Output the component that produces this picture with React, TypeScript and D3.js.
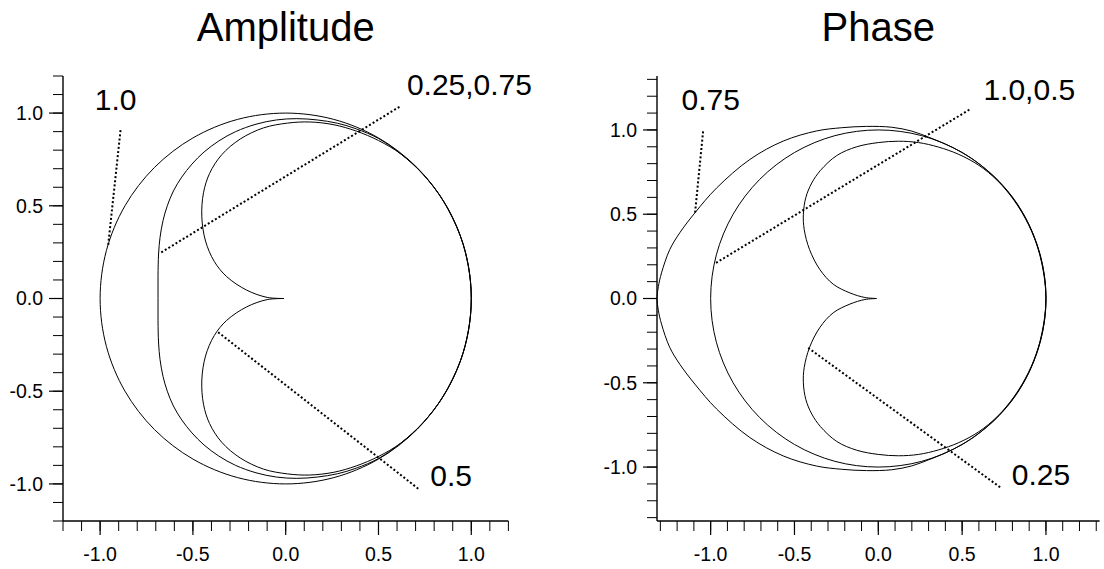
import React from "react";
import * as d3 from "d3";

type Pt = [number, number];

// ---- Data (upper halves, from left end to right end; curves are symmetric about y = 0) ----

// Amplitude panel
const ampCurve1_0: Pt[] = [
  [-1.0, 0], [-0.966, 0.259], [-0.866, 0.5], [-0.707, 0.707], [-0.5, 0.866], [-0.259, 0.966],
  [0.0, 1.0], [0.259, 0.966], [0.5, 0.866], [0.707, 0.707], [0.866, 0.5], [0.966, 0.259], [1.0, 0],
];
const ampCurve025_075: Pt[] = [
  [-0.688, 0], [-0.688, 0.12], [-0.685, 0.24], [-0.677, 0.33], [-0.661, 0.42], [-0.638, 0.5],
  [-0.605, 0.58], [-0.56, 0.655], [-0.505, 0.725], [-0.44, 0.79], [-0.36, 0.85], [-0.27, 0.9],
  [-0.16, 0.94], [-0.05, 0.963], [0.06, 0.97], [0.17, 0.963], [0.28, 0.945], [0.38, 0.915],
  [0.5, 0.863], [0.62, 0.78], [0.74, 0.67], [0.85, 0.525], [0.94, 0.34], [0.985, 0.17], [1.0, 0],
];
const ampCurve0_5: Pt[] = [
  [-0.01, 0], [-0.1, 0.006], [-0.21, 0.045], [-0.318, 0.118], [-0.385, 0.2], [-0.432, 0.31],
  [-0.452, 0.44], [-0.443, 0.57], [-0.41, 0.675], [-0.345, 0.775], [-0.245, 0.86], [-0.12, 0.92],
  [0.01, 0.946], [0.13, 0.952], [0.26, 0.937], [0.38, 0.903], [0.5, 0.852], [0.62, 0.78],
  [0.74, 0.67], [0.85, 0.525], [0.94, 0.34], [0.985, 0.17], [1.0, 0],
];

// Phase panel
const phaseCurve0_75: Pt[] = [
  [-1.32, 0], [-1.312, 0.07], [-1.293, 0.152], [-1.244, 0.29], [-1.184, 0.39], [-1.094, 0.508],
  [-0.965, 0.655], [-0.766, 0.825], [-0.567, 0.934], [-0.368, 0.994], [-0.22, 1.013], [-0.07, 1.021],
  [0.08, 1.016], [0.2, 0.993], [0.3, 0.957], [0.4, 0.916], [0.5, 0.866], [0.6, 0.8],
  [0.72, 0.695], [0.83, 0.56], [0.92, 0.39], [0.975, 0.21], [1.0, 0],
];
const phaseCurve1_0_0_5: Pt[] = [
  [-1.0, 0], [-0.966, 0.259], [-0.866, 0.5], [-0.707, 0.707], [-0.5, 0.866], [-0.259, 0.966],
  [0.0, 1.0], [0.259, 0.966], [0.5, 0.866], [0.707, 0.707], [0.866, 0.5], [0.966, 0.259], [1.0, 0],
];
const phaseCurve0_25: Pt[] = [
  [-0.01, 0], [-0.08, 0.006], [-0.169, 0.033], [-0.269, 0.085], [-0.348, 0.171], [-0.41, 0.29],
  [-0.442, 0.41], [-0.447, 0.5], [-0.432, 0.6], [-0.397, 0.685], [-0.345, 0.76], [-0.248, 0.848],
  [-0.129, 0.9], [0.0, 0.925], [0.12, 0.933], [0.24, 0.925], [0.36, 0.898], [0.48, 0.855],
  [0.6, 0.79], [0.71, 0.7], [0.81, 0.582], [0.895, 0.44], [0.955, 0.29], [0.99, 0.14], [1.0, 0],
];

// Annotation leader lines [from, to] and label anchors (data coordinates)
const ampLabels = ["1.0", "0.25,0.75", "0.5"];
const ampLeaders: [Pt, Pt][] = [
  [[-0.89, 0.908], [-0.957, 0.283]],
  [[0.613, 1.034], [-0.678, 0.244]],
  [[-0.364, -0.182], [0.716, -1.027]],
];
const ampLabelAnchors: Pt[] = [[-1.029, 1.016], [0.653, 1.097], [0.779, -1.009]];

const phaseLabels = ["0.75", "1.0,0.5", "0.25"];
const phaseLeaders: [Pt, Pt][] = [
  [[-1.045, 0.992], [-1.094, 0.498]],
  [[0.543, 1.12], [-0.975, 0.207]],
  [[-0.418, -0.293], [0.731, -1.123]],
];
const phaseLabelAnchors: Pt[] = [[-1.174, 1.116], [0.627, 1.18], [0.796, -1.108]];

// Axes
const majorTicks = [-1.0, -0.5, 0.0, 0.5, 1.0];
const majorTickLabels = ["-1.0", "-0.5", "0.0", "0.5", "1.0"];
const ampMinorTicks = [-1.2, -1.1, -1.0, -0.9, -0.8, -0.7, -0.6, -0.5, -0.4, -0.3, -0.2, -0.1, 0, 0.1, 0.2, 0.3, 0.4, 0.5, 0.6, 0.7, 0.8, 0.9, 1.0, 1.1, 1.2];
const phaseMinorTicks = [-1.3, ...ampMinorTicks, 1.3];

const FONT = "'Liberation Sans', Arial, Helvetica, sans-serif";

function closedLoop(upper: Pt[]): Pt[] {
  const lower = upper.slice(1, -1).reverse().map(([x, y]) => [x, -y] as Pt);
  return [...upper, ...lower];
}
function cuspLoop(upper: Pt[]): Pt[] {
  const lower = upper.slice(0, -1).reverse().map(([x, y]) => [x, -y] as Pt);
  return [...upper, ...lower];
}

type CurveSpec = { pts: Pt[]; cusp: boolean };

type PanelProps = {
  title: string;
  xDomain: [number, number];
  xRange: [number, number];
  yDomain: [number, number];
  yRange: [number, number];
  curves: CurveSpec[];
  leaders: [Pt, Pt][];
  labels: string[];
  anchors: Pt[];
  minorTicks: number[];
};

function Panel(p: PanelProps) {
  const x = d3.scaleLinear().domain(p.xDomain).range(p.xRange);
  const y = d3.scaleLinear().domain(p.yDomain).range(p.yRange);
  const x0 = p.xRange[0];
  const yb = p.yRange[0];
  const lineClosed = d3.line<Pt>().x((d) => x(d[0])).y((d) => y(d[1])).curve(d3.curveCatmullRomClosed.alpha(0.5));
  const lineOpen = d3.line<Pt>().x((d) => x(d[0])).y((d) => y(d[1])).curve(d3.curveCatmullRom.alpha(0.5));
  return (
    <g>
      <text x={x(0)} y={40.5} textAnchor="middle" fontSize={40} fontFamily={FONT} fill="#000">
        {p.title}
      </text>
      {p.curves.map((c, i) => (
        <path
          key={i}
          d={(c.cusp ? lineOpen(cuspLoop(c.pts)) : lineClosed(closedLoop(c.pts))) || ""}
          fill="none"
          stroke="#000"
          strokeWidth={1}
        />
      ))}
      {p.leaders.map((l, i) => (
        <line
          key={i}
          x1={x(l[0][0])}
          y1={y(l[0][1])}
          x2={x(l[1][0])}
          y2={y(l[1][1])}
          stroke="#000"
          strokeWidth={2}
          strokeDasharray="2 2.2"
        />
      ))}
      {p.labels.map((t, i) => (
        <text key={i} x={x(p.anchors[i][0])} y={y(p.anchors[i][1])} fontSize={30} fontFamily={FONT} fill="#000">
          {t}
        </text>
      ))}
      {/* axes */}
      <line x1={x0} y1={p.yRange[1]} x2={x0} y2={yb} stroke="#000" strokeWidth={1.4} />
      <line x1={x0} y1={yb} x2={p.xRange[1]} y2={yb} stroke="#000" strokeWidth={1.4} />
      {p.minorTicks.map((v, i) => (
        <g key={i}>
          <line x1={x0 - 10} x2={x0} y1={y(v)} y2={y(v)} stroke="#000" strokeWidth={1} />
          <line x1={x(v)} x2={x(v)} y1={yb} y2={yb + 10} stroke="#000" strokeWidth={1} />
        </g>
      ))}
      {majorTicks.map((v, i) => (
        <g key={i}>
          <line x1={x0 - 14} x2={x0} y1={y(v)} y2={y(v)} stroke="#000" strokeWidth={1.2} />
          <line x1={x(v)} x2={x(v)} y1={yb} y2={yb + 14} stroke="#000" strokeWidth={1.2} />
          <text x={x0 - 20} y={y(v)} dy="0.35em" textAnchor="end" fontSize={19.5} fontFamily={FONT} fill="#000">
            {majorTickLabels[i]}
          </text>
          <text x={x(v)} y={yb + 40} textAnchor="middle" fontSize={19.5} fontFamily={FONT} fill="#000">
            {majorTickLabels[i]}
          </text>
        </g>
      ))}
    </g>
  );
}

export default function App() {
  return (
    <svg
      width={1104}
      height={569}
      style={{ position: "absolute", left: 0, top: 0, background: "#fff" }}
    >
      <rect x={0} y={0} width={1104} height={569} fill="#fff" />
      <Panel
        title="Amplitude"
        xDomain={[-1.2, 1.2]}
        xRange={[63, 508.4]}
        yDomain={[-1.2, 1.2]}
        yRange={[521, 76]}
        curves={[
          { pts: ampCurve1_0, cusp: false },
          { pts: ampCurve025_075, cusp: false },
          { pts: ampCurve0_5, cusp: true },
        ]}
        leaders={ampLeaders}
        labels={ampLabels}
        anchors={ampLabelAnchors}
        minorTicks={ampMinorTicks}
      />
      <Panel
        title="Phase"
        xDomain={[-1.32, 1.32]}
        xRange={[657, 1099.6]}
        yDomain={[-1.32, 1.32]}
        yRange={[521, 76]}
        curves={[
          { pts: phaseCurve0_75, cusp: false },
          { pts: phaseCurve1_0_0_5, cusp: false },
          { pts: phaseCurve0_25, cusp: true },
        ]}
        leaders={phaseLeaders}
        labels={phaseLabels}
        anchors={phaseLabelAnchors}
        minorTicks={phaseMinorTicks}
      />
    </svg>
  );
}
